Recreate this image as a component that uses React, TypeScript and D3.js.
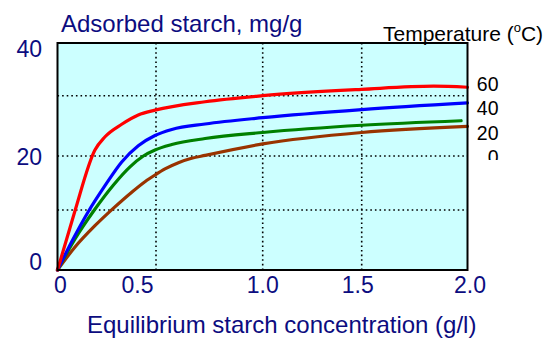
import React from "react";
import * as d3 from "d3";

// Adsorption isotherms of starch at four temperatures (°C)
const temperatures = ["60", "40", "20", "0"];
const seriesColors = ["#ff0000", "#0000ff", "#008000", "#993300"];

const conc60 = [0, 0.047, 0.09, 0.19, 0.24, 0.326, 0.41, 0.495, 0.73, 1.0, 1.5, 1.84, 2.0];
const ads60 = [0, 5.2, 10, 21.0, 23.15, 25.26, 26.8, 27.6, 29.0, 30.0, 31.2, 31.8, 31.6];

const conc40 = [0, 0.072, 0.156, 0.241, 0.326, 0.41, 0.495, 0.574, 0.73, 1.0, 1.5, 2.0];
const ads40 = [0, 4.7, 9.7, 14.5, 18.9, 21.7, 23.4, 24.4, 25.3, 26.35, 27.7, 28.8];

const conc20 = [0, 0.089, 0.187, 0.283, 0.368, 0.436, 0.495, 0.574, 0.73, 1.0, 1.5, 1.97];
const ads20 = [0, 5.2, 10, 14.6, 18.0, 20.0, 21.0, 21.9, 22.9, 23.9, 25.1, 25.85];

const conc0 = [0, 0.089, 0.19, 0.283, 0.377, 0.444, 0.495, 0.542, 0.605, 0.667, 0.73, 1.0, 1.5, 2.0];
const ads0 = [0, 3.83, 7.38, 10.3, 13.3, 15.24, 16.48, 17.6, 18.76, 19.57, 20.1, 22.0, 23.9, 24.9];

const seriesConc = [conc60, conc40, conc20, conc0];
const seriesAds = [ads60, ads40, ads20, ads0];

const xTicks = [0, 0.5, 1.0, 1.5, 2.0];
const xTickLabels = ["0", "0.5", "1.0", "1.5", "2.0"];
const xGrid = [0.5, 1.0, 1.5];
const yTicks = [0, 20, 40];
const yTickLabels = ["0", "20", "40"];
const yGrid = [10, 20, 30];

const titleText = "Adsorbed starch, mg/g";
const xAxisTitle = "Equilibrium starch concentration (g/l)";

// Layout
const W = 558;
const H = 341;
const plotLeft = 57.5;
const plotRight = 467.5;
const plotTop = 43;
const plotBottom = 270;
const navy = "#0c0c80";
const font = "'Liberation Sans', Arial, Helvetica, sans-serif";

// The drawn grid is slightly uneven, so the scales are piecewise linear
const xScale = d3
  .scaleLinear()
  .domain([0, 0.5, 1.0, 1.5, 2.0])
  .range([plotLeft, 156, 262.7, 361.7, plotRight]);

const yScale = d3
  .scaleLinear()
  .domain([0, 10, 20, 30, 40])
  .range([plotBottom, 210, 156, 95.7, plotTop]);

// Hand-placed tick label adjustments
const xLabelNudge = [3, -18.5, 0, -4, 2.5];
const yLabelNudge = [0, 9, 14];

export default function App() {
  const line = d3
    .line<[number, number]>()
    .x((d) => xScale(d[0]))
    .y((d) => yScale(d[1]))
    .curve(d3.curveMonotoneX);

  return (
    <svg
      width={W}
      height={H}
      style={{ position: "absolute", left: 0, top: 0, background: "#fff" }}
      fontFamily={font}
    >
      <defs>
        <clipPath id="legendClip">
          <rect x={440} y={60} width={100} height={100} />
        </clipPath>
      </defs>

      {/* plot background */}
      <rect
        x={plotLeft}
        y={plotTop}
        width={plotRight - plotLeft}
        height={plotBottom - plotTop}
        fill="#ccffff"
      />

      {/* dotted grid */}
      {xGrid.map((v) => (
        <line
          key={"gx" + v}
          x1={xScale(v)}
          x2={xScale(v)}
          y1={plotTop}
          y2={plotBottom}
          stroke="#000"
          strokeWidth={1.6}
          strokeDasharray="1.6 3"
        />
      ))}
      {yGrid.map((v) => (
        <line
          key={"gy" + v}
          x1={plotLeft}
          x2={plotRight}
          y1={yScale(v)}
          y2={yScale(v)}
          stroke="#000"
          strokeWidth={1.6}
          strokeDasharray="1.6 3"
        />
      ))}

      {/* isotherm curves, coolest drawn first */}
      {[3, 2, 1, 0].map((i) => {
        const pts = seriesConc[i].map((c, j) => [c, seriesAds[i][j]] as [number, number]);
        return (
          <path
            key={"s" + i}
            d={line(pts) || ""}
            fill="none"
            stroke={seriesColors[i]}
            strokeWidth={3.2}
            strokeLinejoin="round"
            strokeLinecap="round"
          />
        );
      })}

      {/* plot frame */}
      <rect
        x={plotLeft}
        y={plotTop}
        width={plotRight - plotLeft}
        height={plotBottom - plotTop}
        fill="none"
        stroke="#000"
        strokeWidth={2}
      />

      {/* y tick labels */}
      {yTicks.map((v, i) => (
        <text
          key={"yt" + v}
          x={42}
          y={yScale(v) + yLabelNudge[i]}
          textAnchor="end"
          fontSize={23}
          fill={navy}
        >
          {yTickLabels[i]}
        </text>
      ))}

      {/* x tick labels */}
      {xTicks.map((v, i) => (
        <text
          key={"xt" + v}
          x={xScale(v) + xLabelNudge[i]}
          y={293}
          textAnchor="middle"
          fontSize={23}
          fill={navy}
        >
          {xTickLabels[i]}
        </text>
      ))}

      {/* titles */}
      <text x={61} y={31.5} fontSize={24} fill={navy}>
        {titleText}
      </text>
      <text x={281.7} y={333} textAnchor="middle" fontSize={24} fill={navy}>
        {xAxisTitle}
      </text>

      {/* legend */}
      <text x={383} y={40.5} fontSize={21} fill="#000">
        Temperature (
        <tspan fontSize={13} dy={-9}>
          o
        </tspan>
        <tspan dy={9}>C)</tspan>
      </text>
      <g clipPath="url(#legendClip)">
        {temperatures.map((t, i) => (
          <text
            key={"lg" + t}
            x={498.5}
            y={90.5 + i * 24.5}
            textAnchor="end"
            fontSize={19.5}
            fill="#000"
          >
            {t}
          </text>
        ))}
      </g>
    </svg>
  );
}
